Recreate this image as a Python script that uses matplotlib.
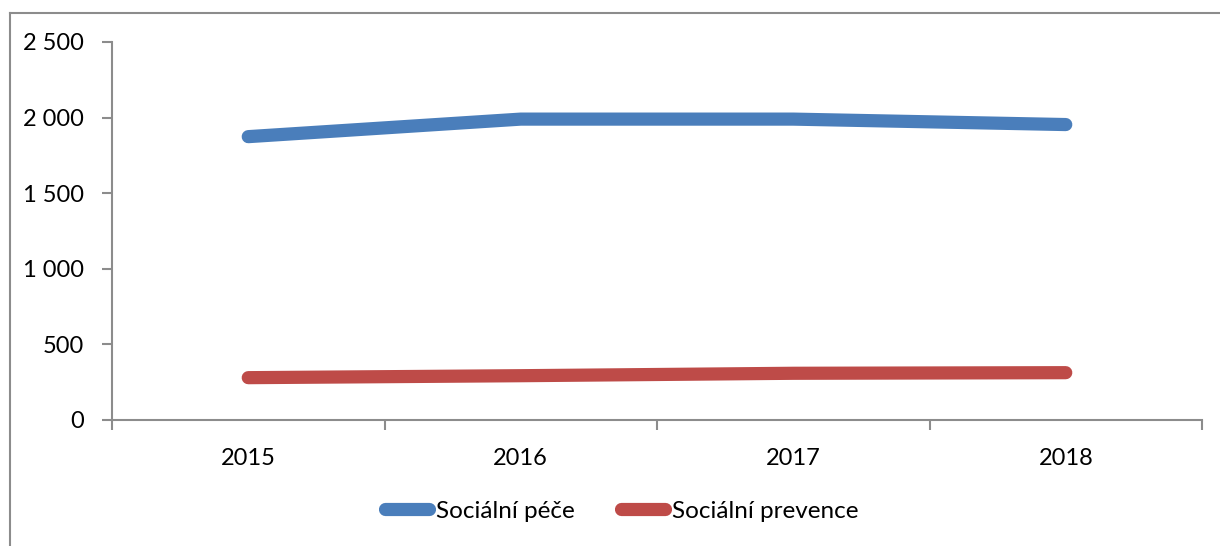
import matplotlib.pyplot as plt
from matplotlib.lines import Line2D
from matplotlib.ticker import FuncFormatter, FixedLocator

years = ["2015", "2016", "2017", "2018"]
pece = [1874, 1990, 1990, 1954]
prevence = [280, 293, 309, 313]

plt.rcParams['font.family'] = ['Lato', 'DejaVu Sans']

fig = plt.figure(figsize=(12.2, 5.46), dpi=100)
ax = fig.add_axes([112 / 1220, 1 - 420 / 546, 1090 / 1220, 378 / 546])

# outer chart frame: only left and top edges are inside the image
fx, fy = 9.5 / 1220, 1 - 12.5 / 546
fig.add_artist(Line2D([fx, fx], [0, fy], transform=fig.transFigure, color="#8c8c8c", linewidth=1.5))
fig.add_artist(Line2D([fx, 1], [fy, fy], transform=fig.transFigure, color="#8c8c8c", linewidth=1.5))

x = range(len(years))
ax.plot(x, pece, color="#4a7ebb", linewidth=9.5, solid_capstyle="round", label="Sociální péče")
ax.plot(x, prevence, color="#be4b48", linewidth=9.5, solid_capstyle="round", label="Sociální prevence")

ax.set_xlim(-0.5, len(years) - 0.5)
ax.set_ylim(0, 2500)
ax.set_yticks([0, 500, 1000, 1500, 2000, 2500])
ax.yaxis.set_major_formatter(FuncFormatter(lambda v, p: f"{v:,.0f}".replace(",", " ")))
ax.set_xticks(list(x))
ax.set_xticklabels(years)
ax.xaxis.set_minor_locator(FixedLocator([i - 0.5 for i in range(len(years) + 1)]))

for s in ["top", "right"]:
    ax.spines[s].set_visible(False)
for s in ["left", "bottom"]:
    ax.spines[s].set_color("#8c8c8c")
    ax.spines[s].set_linewidth(1.5)

ax.tick_params(axis="y", length=7, width=1.5, color="#8c8c8c", labelsize=17, pad=13)
ax.tick_params(axis="x", which="major", length=0, labelsize=17, pad=20)
ax.tick_params(axis="x", which="minor", length=7, width=1.5, color="#8c8c8c")

fig.legend(loc="center", bbox_to_anchor=(0.51, 1 - 511 / 546), ncol=2, frameon=False,
           fontsize=17.5, handlelength=1.8, handletextpad=0.3, columnspacing=1.9)

fig.savefig("out.png", dpi=100)
